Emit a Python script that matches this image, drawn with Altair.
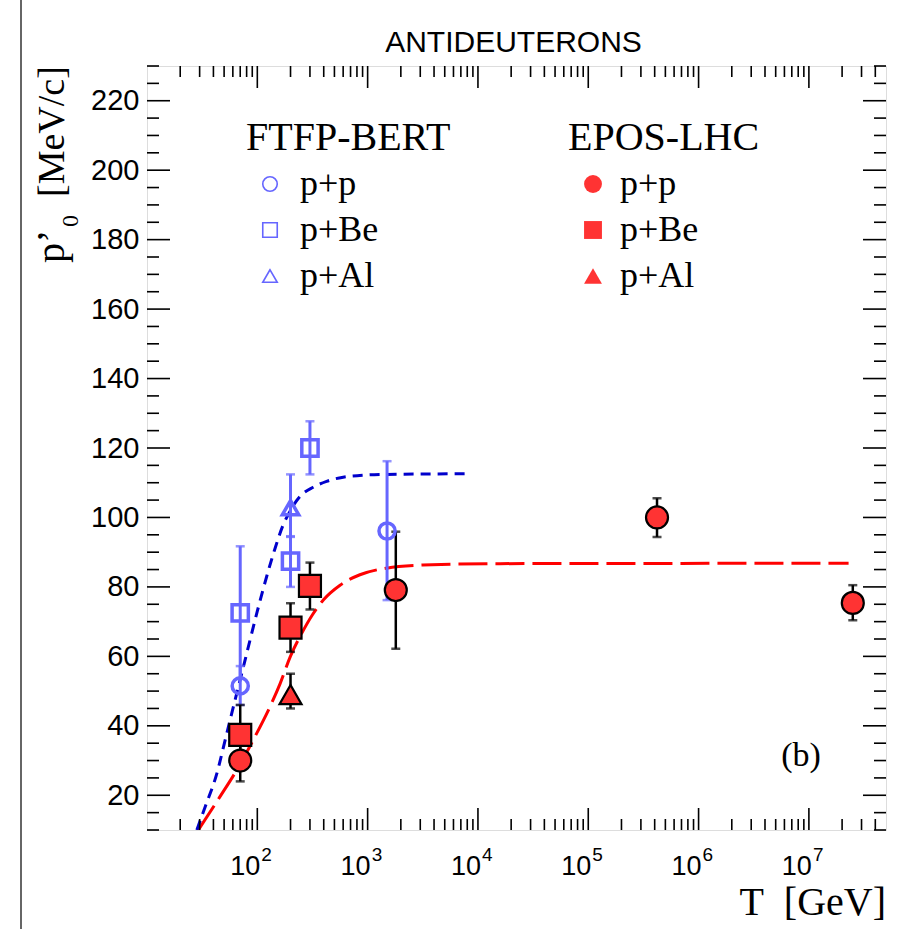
import altair as alt
import pandas as pd

# ---------------- data ----------------
# fitted curves (T in GeV, p0' in MeV/c)
ftfp_curve_T = [28.3, 33.7, 43.0, 51.1, 60.7, 72.3, 85.9, 100, 121.6, 144.5, 169.8,
                199.5, 243.2, 321.4, 424.6, 599.8, 849.2, 1479, 3162, 8710]
ftfp_curve_p = [10, 16.7, 26.3, 35.9, 45.5, 55.1, 64.7, 73, 83, 91, 97.5,
                102, 106, 108.7, 110.4, 111.6, 112.1, 112.4, 112.5, 112.6]
epos_curve_T = [29.2, 45.9, 65.2, 92.0, 130.3, 160.3, 199.5, 251.2, 316.2, 398.1,
                562.3, 851.1, 1479, 3162, 15850, 2.29e7]
epos_curve_p = [10, 19.6, 27.3, 36, 45.5, 52, 60, 66.5, 72, 76.3,
                80.5, 83.5, 85.4, 86.3, 86.7, 86.8]

# FTFP-BERT points
ftfp_system = ["p+p", "p+Be", "p+Al", "p+Be", "p+Be", "p+p"]
ftfp_T = [70, 70, 200, 200, 300, 1500]
ftfp_p = [51.5, 72.5, 102.8, 87.4, 120.0, 96.1]
ftfp_lo = [46.0, 53.5, 94.4, 80.0, 112.4, 76.2]
ftfp_hi = [57.2, 91.7, 112.4, 94.6, 127.7, 116.2]

# EPOS-LHC points
epos_system = ["p+p", "p+Be", "p+Be", "p+Be", "p+Al", "p+p", "p+p", "p+p"]
epos_T = [70, 70, 200, 300, 200, 1800, 4.2e5, 2.5e7]
epos_p = [30.0, 37.4, 68.3, 80.3, 49.0, 79.1, 100.0, 75.4]
epos_lo = [24.0, 29.0, 61.3, 73.5, 45.0, 62.2, 94.4, 70.4]
epos_hi = [36.0, 46.0, 75.3, 87.0, 55.0, 95.9, 105.5, 80.5]

systems = ["p+p", "p+Be", "p+Al"]
shapes = ["circle", "square", "triangle-up"]

x_decades = [100, 1e3, 1e4, 1e5, 1e6, 1e7]
x_exponents = ["2", "3", "4", "5", "6", "7"]
x_minor = [m * 10 ** e for e in range(1, 8) for m in range(2, 10) if m * 10 ** e < 5e7]
y_major = list(range(20, 221, 20))
y_minor = [v for v in range(10, 231, 5) if v % 20 != 0]

# ---------------- styling ----------------
W, H = 739, 764
BLUE = "#6666ff"
DBLUE = "#0000cc"
RED = "#ff3333"
SERIF = "Liberation Serif"
SANS = "Liberation Sans"

xs = alt.Scale(type="log", domain=[10, 5e7], nice=False)
ys = alt.Scale(domain=[10, 230], nice=False, zero=False)
X = lambda f: alt.X(f, type="quantitative", scale=xs, axis=None)
Y = lambda f: alt.Y(f, type="quantitative", scale=ys,
                    axis=alt.Axis(values=y_major, ticks=False, domain=False, grid=False,
                                  labelPadding=8, labelFont=SANS, labelFontSize=29,
                                  labelColor="black", title=None))
Y2 = lambda f: alt.Y2(f)

ftfp_curve = pd.DataFrame({"T": ftfp_curve_T, "p": ftfp_curve_p})
epos_curve = pd.DataFrame({"T": epos_curve_T, "p": epos_curve_p})
ftfp = pd.DataFrame({"system": ftfp_system, "T": ftfp_T, "p": ftfp_p, "lo": ftfp_lo, "hi": ftfp_hi})
epos = pd.DataFrame({"system": epos_system, "T": epos_T, "p": epos_p, "lo": epos_lo, "hi": epos_hi})

layers = []

# left border line of the original figure pad
layers.append(alt.Chart(pd.DataFrame({"k": [0]})).mark_rule(color="#333333", strokeWidth=1.5)
              .encode(x=alt.value(-126), y=alt.value(-66), y2=alt.value(863)))

layers.append(alt.Chart(epos_curve).mark_line(color="#ff0000", strokeWidth=3, strokeDash=[29, 8],
                                               clip=True, interpolate="monotone")
              .encode(x=X("T"), y=Y("p")))
layers.append(alt.Chart(ftfp_curve).mark_line(color=DBLUE, strokeWidth=3, strokeDash=[10, 7],
                                               clip=True, interpolate="monotone")
              .encode(x=X("T"), y=Y("p")))

# error bars
layers.append(alt.Chart(ftfp).mark_rule(color=BLUE, strokeWidth=3).encode(x=X("T"), y=Y("lo"), y2=Y2("hi")))
for f in ["lo", "hi"]:
    layers.append(alt.Chart(ftfp).mark_tick(color=BLUE, orient="horizontal", size=9, thickness=2.5)
                  .encode(x=X("T"), y=Y(f)))
layers.append(alt.Chart(epos).mark_rule(color="black", strokeWidth=2.5).encode(x=X("T"), y=Y("lo"), y2=Y2("hi")))
for f in ["lo", "hi"]:
    layers.append(alt.Chart(epos).mark_tick(color="black", orient="horizontal", size=9, thickness=2.5)
                  .encode(x=X("T"), y=Y(f)))

shape_scale = alt.Scale(domain=systems, range=shapes)
common_legend = dict(orient="none", titleFont=SERIF, titleFontSize=40, titleFontWeight="normal",
                     titleColor="black", labelFont=SERIF, labelFontSize=36, labelColor="black",
                     rowPadding=10, titlePadding=8, padding=0, labelLimit=400, titleLimit=500)

# data markers
layers.append(alt.Chart(ftfp).mark_point(filled=False, color=BLUE, strokeWidth=3.5, opacity=1)
              .encode(x=X("T"), y=Y("p"),
                      shape=alt.Shape("system:N", scale=shape_scale, legend=None),
                      size=alt.Size("system:N", scale=alt.Scale(domain=systems, range=[260, 270, 500]),
                                    legend=None)))
layers.append(alt.Chart(epos).mark_point(filled=True, fill=RED, stroke="black",
                                         strokeWidth=2.2, opacity=1, fillOpacity=1)
              .encode(x=X("T"), y=Y("p"),
                      shape=alt.Shape("system:N", scale=shape_scale, legend=None),
                      size=alt.Size("system:N", scale=alt.Scale(domain=systems, range=[484, 484, 820]),
                                    legend=None)))

# legend carriers (draw nothing; they only own the legends)
layers.append(alt.Chart(ftfp).transform_filter("false")
              .mark_point(filled=False, color=BLUE, size=210, strokeWidth=1.6, opacity=1)
              .encode(x=X("T"), y=Y("p"),
                      shape=alt.Shape("system:N", scale=shape_scale,
                                      legend=alt.Legend(title="FTFP-BERT", legendX=99, legendY=52,
                                                        symbolSize=210, symbolOffset=6, labelOffset=12,
                                                        symbolStrokeWidth=1.6, **common_legend))))
layers.append(alt.Chart(epos).transform_filter("false")
              .mark_point(filled=True, color=RED, size=320, strokeWidth=0, opacity=1)
              .encode(x=X("T"), y=Y("p"),
                      shape=alt.Shape("system:N", scale=shape_scale,
                                      legend=alt.Legend(title="EPOS-LHC", legendX=421, legendY=52,
                                                        symbolSize=320, symbolOffset=7, labelOffset=9,
                                                        symbolStrokeWidth=0, **common_legend))))

# inward ticks (ROOT style frame)
xmaj = pd.DataFrame({"T": x_decades, "e": x_exponents})
xmin = pd.DataFrame({"T": x_minor})
ymaj = pd.DataFrame({"v": y_major})
ymin = pd.DataFrame({"v": y_minor})
tk = dict(color="black", strokeWidth=1.6)
layers.append(alt.Chart(xmaj).mark_rule(**tk).encode(x=X("T"), y=alt.value(H), y2=alt.value(H - 22)))
layers.append(alt.Chart(xmaj).mark_rule(**tk).encode(x=X("T"), y=alt.value(0), y2=alt.value(22)))
layers.append(alt.Chart(xmin).mark_rule(**tk).encode(x=X("T"), y=alt.value(H), y2=alt.value(H - 11)))
layers.append(alt.Chart(xmin).mark_rule(**tk).encode(x=X("T"), y=alt.value(0), y2=alt.value(11)))
layers.append(alt.Chart(ymaj).mark_rule(**tk).encode(y=Y("v"), x=alt.value(0), x2=alt.value(23)))
layers.append(alt.Chart(ymaj).mark_rule(**tk).encode(y=Y("v"), x=alt.value(W), x2=alt.value(W - 23)))
layers.append(alt.Chart(ymin).mark_rule(**tk).encode(y=Y("v"), x=alt.value(0), x2=alt.value(12)))
layers.append(alt.Chart(ymin).mark_rule(**tk).encode(y=Y("v"), x=alt.value(W), x2=alt.value(W - 12)))

# x tick labels 10^n
layers.append(alt.Chart(xmaj).mark_text(font=SANS, fontSize=27, align="right", baseline="alphabetic",
                                        dx=3, color="black")
              .encode(x=X("T"), y=alt.value(H + 45), text=alt.value("10")))
layers.append(alt.Chart(xmaj).mark_text(font=SANS, fontSize=19, align="left", baseline="alphabetic",
                                        dx=4, color="black")
              .encode(x=X("T"), y=alt.value(H + 31), text="e:N"))

# texts
txt = lambda s, x, y, **kw: alt.Chart(pd.DataFrame({"t": [s]})).mark_text(color="black", **kw).encode(
    x=alt.value(x), y=alt.value(y), text="t:N")
layers.append(txt("ANTIDEUTERONS", W / 2 - 3, -14, font=SANS, fontSize=30, align="center", baseline="alphabetic"))
layers.append(txt("T\u00a0\u00a0[GeV]", W, 849, font=SERIF, fontSize=40, align="right", baseline="alphabetic"))
layers.append(txt("(b)", 654, 700, font=SERIF, fontSize=34, align="center", baseline="alphabetic"))
# y title p'_0 [MeV/c] (rotated)
layers.append(txt("p\u2019", -83, 197, font=SERIF, fontSize=40, angle=270, align="left", baseline="alphabetic"))
layers.append(txt("0", -69, 161, font=SERIF, fontSize=24, angle=270, align="left", baseline="alphabetic"))
layers.append(txt("[MeV/c]", -83, 131, font=SERIF, fontSize=38, angle=270, align="left", baseline="alphabetic"))

chart = (alt.layer(*layers)
         .resolve_scale(shape="independent", size="independent")
         .properties(width=W, height=H, autosize="none",
                     padding={"left": 147, "top": 66, "right": 15, "bottom": 99})
         .configure_view(stroke="black", strokeWidth=2)
         .configure(background="white"))

chart.save("out.html", embed_options={"renderer": "svg", "actions": False})
